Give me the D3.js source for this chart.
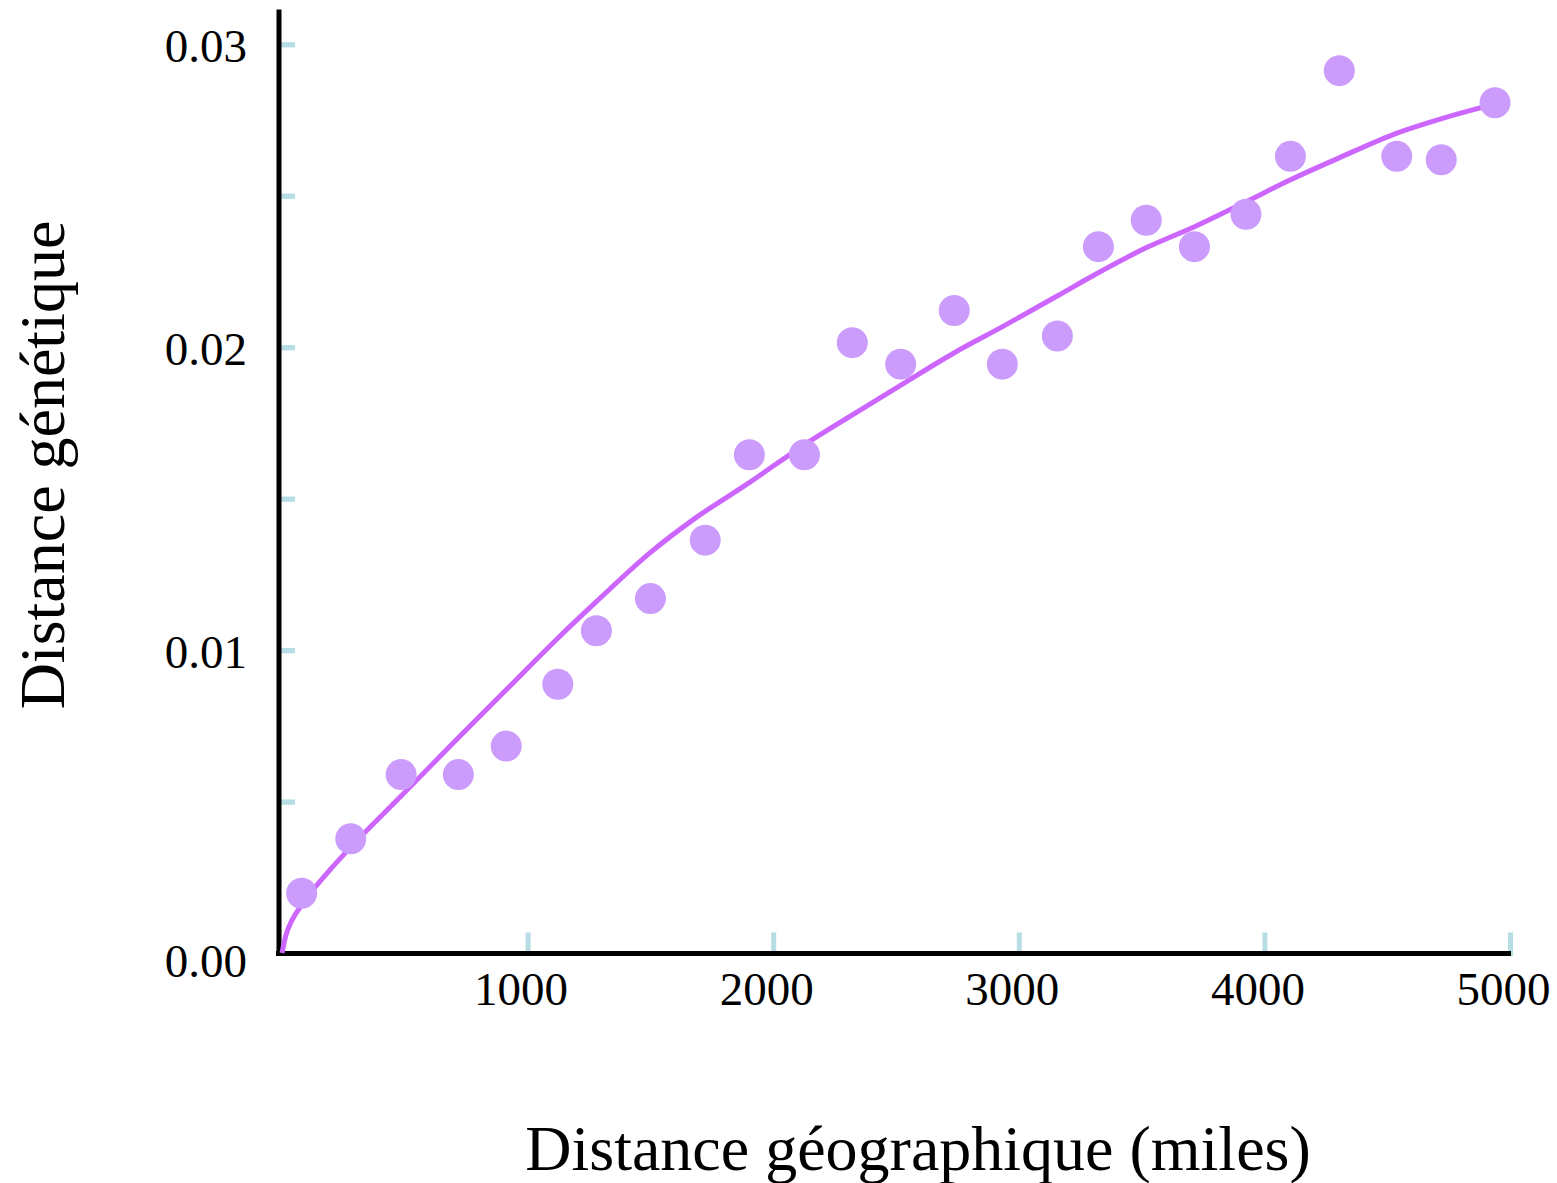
<!DOCTYPE html>
<html>
<head>
<meta charset="utf-8">
<script src="https://cdn.jsdelivr.net/npm/d3@7"></script>
<style>
  body { margin: 0; background: #fff; }
  text { font-family: "Liberation Serif", "Times New Roman", serif; fill: #000; }
</style>
</head>
<body>
<div id="chart"></div>
<script>
// observed points: geographic distance (miles) vs genetic distance
var geoDist = [80, 280, 485, 718, 913, 1123, 1280, 1500, 1723, 1903, 2127, 2322, 2519,
               2737, 2933, 3157, 3324, 3519, 3715, 3925, 4106, 4305, 4539, 4720, 4939];
var genDist = [0.00197, 0.00377, 0.00589, 0.00589, 0.00683, 0.00887, 0.01064, 0.01170,
               0.01363, 0.01645, 0.01645, 0.02015, 0.01944, 0.02121, 0.01944, 0.02037,
               0.02332, 0.02419, 0.02332, 0.02439, 0.02630, 0.02913, 0.02630, 0.02619, 0.02807];

// fitted curve
var fitX = [0, 16, 41, 80, 126, 195, 277, 485, 717, 912, 1124, 1279, 1498, 1673, 1901,
            2125, 2321, 2520, 2736, 2932, 3156, 3322, 3518, 3713, 3925, 4104, 4304,
            4540, 4719, 4878, 4939];
var fitY = [0, 0.00059, 0.00109, 0.00158, 0.00208, 0.00274, 0.00347, 0.00518, 0.00710,
            0.00868, 0.01040, 0.01159, 0.01321, 0.01430, 0.01552, 0.01677, 0.01776,
            0.01875, 0.01981, 0.02067, 0.02169, 0.02245, 0.02328, 0.02397, 0.02480,
            0.02552, 0.02625, 0.02707, 0.02754, 0.02790, 0.02803];

var xTicks = [1000, 2000, 3000, 4000, 5000];
var yTicks = [0, 0.005, 0.01, 0.015, 0.02, 0.025, 0.03];

var width = 1557, height = 1183;
var axisX = 279, axisY = 953.5, axisTop = 9.5, axisRight = 1511;
var tickBlue = "#b6dde3";

var svg = d3.select("#chart").append("svg")
    .attr("width", width)
    .attr("height", height);

var x = d3.scaleLinear().domain([0, 5000]).range([282, 1510]);
var y = d3.scaleLinear().domain([0, 0.03]).range([953, 44.3]);

// x axis ticks + labels
var gx = svg.append("g")
    .attr("transform", "translate(0," + axisY + ")")
    .call(d3.axisBottom(x).tickValues(xTicks).tickFormat(d3.format("d"))
        .tickSize(-21).tickPadding(18));
gx.select(".domain").remove();
gx.selectAll(".tick line")
    .attr("y1", 2.5)
    .attr("stroke", tickBlue)
    .attr("stroke-width", 5);
gx.selectAll(".tick text")
    .attr("dx", -7)
    .style("font-size", "47px")
    .attr("font-family", null);

// y axis ticks + labels
var gy = svg.append("g")
    .attr("transform", "translate(" + axisX + ",0)")
    .call(d3.axisLeft(y).tickValues(yTicks)
        .tickFormat(function (d) {
            return Math.abs(d * 100 - Math.round(d * 100)) < 1e-9 ? d3.format(".2f")(d) : "";
        })
        .tickSize(-16).tickPadding(32));
gy.select(".domain").remove();
gy.selectAll(".tick line")
    .attr("stroke", tickBlue)
    .attr("stroke-width", 5.3)
    .attr("x1", 0)
    .style("display", function (d) { return d === 0 ? "none" : null; });
gy.selectAll(".tick text")
    .attr("dy", function (d) { return d === 0 ? "0.5em" : "0.36em"; })
    .style("font-size", "47px")
    .attr("font-family", null);

// axis lines
svg.append("line")
    .attr("x1", axisX).attr("x2", axisX)
    .attr("y1", axisTop).attr("y2", axisY + 2.5)
    .attr("stroke", "#000").attr("stroke-width", 5);
svg.append("line")
    .attr("x1", axisX - 3).attr("x2", axisRight)
    .attr("y1", axisY).attr("y2", axisY)
    .attr("stroke", "#000").attr("stroke-width", 5);

// fit curve
var fitData = fitX.map(function (d, i) { return [d, fitY[i]]; });
svg.append("path")
    .datum(fitData)
    .attr("fill", "none")
    .attr("stroke", "#cc66ff")
    .attr("stroke-width", 5)
    .attr("d", d3.line()
        .x(function (d) { return x(d[0]); })
        .y(function (d) { return y(d[1]); })
        .curve(d3.curveMonotoneX));

// points
svg.append("g")
    .selectAll("circle")
    .data(geoDist)
    .join("circle")
    .attr("cx", function (d) { return x(d); })
    .attr("cy", function (d, i) { return y(genDist[i]); })
    .attr("r", 15.5)
    .attr("fill", "#cc9cfc");

// axis titles
svg.append("text")
    .attr("x", 918)
    .attr("y", 1170)
    .attr("text-anchor", "middle")
    .style("font-size", "64px")
    .text("Distance géographique (miles)");

svg.append("text")
    .attr("transform", "translate(63.5,465) rotate(-90)")
    .attr("text-anchor", "middle")
    .style("font-size", "64px")
    .text("Distance génétique");
</script>
</body>
</html>
